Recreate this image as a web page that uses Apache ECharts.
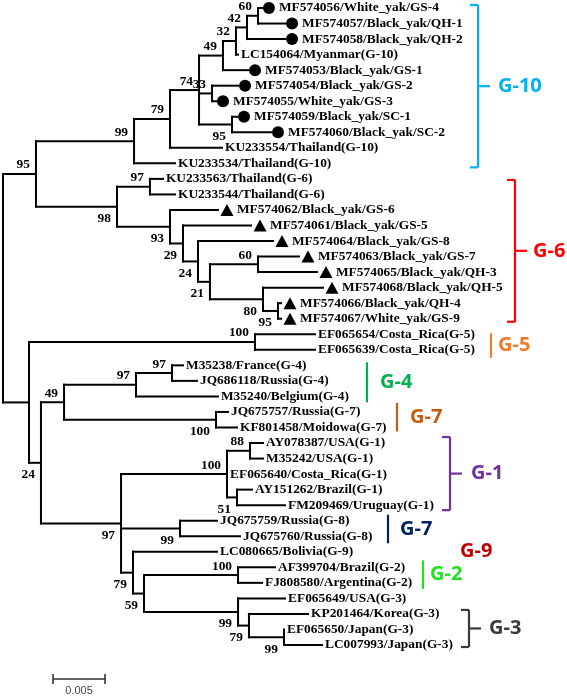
<!DOCTYPE html>
<html><head><meta charset="utf-8">
<script src="https://cdn.jsdelivr.net/npm/echarts@6/dist/echarts.min.js"></script>
<style>html,body{margin:0;padding:0;background:#fff}#c{width:567px;height:696px}</style>
</head><body><div id="c"></div>
<script>
// ---- leaves (top to bottom) ----
const leafNames = [
'MF574056/White_yak/GS-4','MF574057/Black_yak/QH-1','MF574058/Black_yak/QH-2','LC154064/Myanmar(G-10)',
'MF574053/Black_yak/GS-1','MF574054/Black_yak/GS-2','MF574055/White_yak/GS-3','MF574059/Black_yak/SC-1',
'MF574060/Black_yak/SC-2','KU233554/Thailand(G-10)','KU233534/Thailand(G-10)',
'KU233563/Thailand(G-6)','KU233544/Thailand(G-6)','MF574062/Black_yak/GS-6','MF574061/Black_yak/GS-5',
'MF574064/Black_yak/GS-8','MF574063/Black_yak/GS-7','MF574065/Black_yak/QH-3','MF574068/Black_yak/QH-5',
'MF574066/Black_yak/QH-4','MF574067/White_yak/GS-9',
'EF065654/Costa_Rica(G-5)','EF065639/Costa_Rica(G-5)','M35238/France(G-4)','JQ686118/Russia(G-4)',
'M35240/Belgium(G-4)','JQ675757/Russia(G-7)','KF801458/Moidowa(G-7)','AY078387/USA(G-1)','M35242/USA(G-1)',
'EF065640/Costa_Rica(G-1)','AY151262/Brazil(G-1)','FM209469/Uruguay(G-1)','JQ675759/Russia(G-8)',
'JQ675760/Russia(G-8)','LC080665/Bolivia(G-9)','AF399704/Brazil(G-2)','FJ808580/Argentina(G-2)',
'EF065649/USA(G-3)','KP201464/Korea(G-3)','EF065650/Japan(G-3)','LC007993/Japan(G-3)'];
// yak samples of this study: 'G10' = circle, 'G6' = triangle
const leafYak = ['G10','G10','G10','','G10','G10','G10','G10','G10','','',
'','','G6','G6','G6','G6','G6','G6','G6','G6',
'','','','','','','','','','','','','','','','','','','','',''];
const leafParent = ['H','H','G','F','E','I','I','J','J','C','B','L','L','M','N','O','Q','Q','R','S','S',
'U','U','Y','Y','X','Z','Z','AC','AC','AB','AD','AD','AE','AE','AF','AH','AH','AI','AJ','AK','AK'];
// distance from root (substitutions/site)
const leafDepth = [0.0249,0.02712,0.02712,0.0226,0.02356,0.0226,0.02048,0.0225,0.02577,0.02106,0.01654,
0.01538,0.01654,0.02067,0.02385,0.02596,0.02846,0.03019,0.03077,0.02673,0.02673,
0.03,0.03,0.01731,0.01865,0.02067,0.02163,0.0225,0.025,0.025,0.02154,0.02394,0.02712,
0.02058,0.02279,0.02058,0.02615,0.0249,0.02712,0.02933,0.02702,0.03067];

// ---- internal nodes ----
const nodeIds = ['root','A','B','C','D','E','F','G','H','I','J','K','L','M','N','O','P','Q','R','S',
'T','U','V','W','X','Y','Z','AA','AB','AC','AD','AE','AF','AG','AH','AI','AJ','AK'];
const nodeParent = [null,'root','A','B','C','D','E','F','G','D','D','A','K','K','M','N','O','P','P','R',
'root','T','T','V','W','X','W','V','AA','AB','AB','AA','AA','AF','AG','AG','AI','AJ'];
const nodeDepth = [0,0.00317,0.0126,0.01606,0.01885,0.02115,0.0224,0.02346,0.02452,0.0201,0.02202,
0.01096,0.01413,0.01606,0.01731,0.01875,0.0199,0.02452,0.025,0.02644,
0.0025,0.02423,0.00365,0.00587,0.01279,0.01625,0.02048,0.01135,0.02154,0.02375,0.0225,
0.01702,0.0125,0.01356,0.0226,0.0226,0.02365,0.02702];
const nodeSupport = ['',95,99,79,74,49,32,42,60,33,95,98,97,93,29,24,21,60,80,95,
'',100,24,49,97,97,100,97,100,88,51,99,79,59,100,99,79,99];

// ---- genotype groups ----
const groupNames = ['G-10','G-6','G-5','G-4','G-7','G-1','G-7','G-9','G-2','G-3'];
const groupFirst = [0,11,21,23,26,28,33,35,36,39];
const groupLast  = [10,20,22,25,27,32,34,35,37,41];

// ---- scale bar ----
const scaleBarLength = 0.005;
const scaleBarLabel = '0.005';

// ---- styles / positions ----
const supportBelow = ['J','K','M','N','O','P','R','S','V','Z','AA','AD','AE','AF','AG','AI','AJ','AK'];
const groupStyle = [
 {c:'#00B0F0', x:478, kind:'bracket', pt:-3, pb:4, lx:498},
 {c:'#FF0000', x:515, kind:'bracket', pt:1, pb:3, lx:533},
 {c:'#F07C2A', x:491, kind:'bar', pt:-1, pb:8, lx:498},
 {c:'#00B050', x:367, kind:'bar', pt:-3, pb:6, lx:380},
 {c:'#C55A11', x:397, kind:'bar', pt:-9, pb:4, lx:410},
 {c:'#7030A0', x:450, kind:'bracket', pt:-6, pb:5, lx:471},
 {c:'#002060', x:388, kind:'bar', pt:-6, pb:7, lx:400},
 {c:'#C00000', x:0, kind:'none', pt:0, pb:0, lx:460},
 {c:'#22E022', x:423, kind:'bar', pt:-7, pb:6, lx:430},
 {c:'#3A3A3A', x:469, kind:'bracket', pt:-4, pb:2, lx:489}
];
const serif = 'bold 13.4px "Liberation Serif", "DejaVu Serif", serif';

// ---- build tree geometry ----
const depthOf = {}; nodeIds.forEach((id,i)=>depthOf[id]=nodeDepth[i]);
const kids = {}; nodeIds.forEach(id=>kids[id]=[]);
nodeIds.forEach((id,i)=>{ if(nodeParent[i]) kids[nodeParent[i]].push({t:'n',id}); });
leafParent.forEach((p,i)=>kids[p].push({t:'l',i}));
const yOf = {};
function nodeY(id){
  if (yOf[id]!==undefined) return yOf[id];
  const ys = kids[id].map(k=>k.t==='l'?k.i:nodeY(k.id));
  const lo = Math.min(...ys), hi = Math.max(...ys);
  yOf[id] = (lo+hi)/2; yOf[id+'_lo']=lo; yOf[id+'_hi']=hi;
  return yOf[id];
}
nodeY('root');
const segs = [];
nodeIds.forEach((id,i)=>{
  segs.push([nodeDepth[i], yOf[id+'_lo'], nodeDepth[i], yOf[id+'_hi']]);
  if (nodeParent[i]) segs.push([depthOf[nodeParent[i]], yOf[id], nodeDepth[i], yOf[id]]);
});
leafParent.forEach((p,i)=>{
  if (leafDepth[i]-depthOf[p] > 1e-6) segs.push([depthOf[p], i, leafDepth[i], i]);
});

const chart = echarts.init(document.getElementById('c'));
chart.setOption({
  animation:false,
  grid:{left:3, top:8, width:520, height:637},
  xAxis:{type:'value', min:0, max:0.05, show:false},
  yAxis:{type:'value', min:0, max:41, inverse:true, show:false},
  series:[
    {type:'custom', silent:true, data:segs,
     renderItem:(p,api)=>{
       const a=api.coord([api.value(0),api.value(1)]), b=api.coord([api.value(2),api.value(3)]);
       return {type:'line', shape:{x1:a[0],y1:a[1],x2:b[0],y2:b[1]},
               style:{stroke:'#000', lineWidth:2, lineCap:'square'}};
     }},
    {type:'scatter', silent:true, symbol:'circle', symbolSize:12, symbolOffset:[7,0],
     itemStyle:{color:'#000', opacity:1},
     data:leafDepth.map((d,i)=>[d,i]).filter((v,i)=>leafYak[i]==='G10')},
    {type:'scatter', silent:true, symbol:'triangle', symbolSize:[13,12], symbolOffset:[9,0],
     itemStyle:{color:'#000', opacity:1},
     data:leafDepth.map((d,i)=>[d,i]).filter((v,i)=>leafYak[i]==='G6')},
    {type:'custom', silent:true, data:leafDepth.map((d,i)=>[d,i]),
     renderItem:(p,api)=>{
       const i=p.dataIndex, c=api.coord([api.value(0),api.value(1)]);
       const off = leafYak[i]==='G10'?17:(leafYak[i]==='G6'?19:3);
       return {type:'text', x:c[0]+off, y:c[1],
               style:{text:leafNames[i], fill:'#000', font:serif, align:'left', verticalAlign:'middle'}};
     }},
    {type:'custom', silent:true,
     data:nodeIds.map((id,i)=>[nodeDepth[i], yOf[id]]),
     renderItem:(p,api)=>{
       const i=p.dataIndex; if(nodeSupport[i]==='') return null;
       const c=api.coord([api.value(0),api.value(1)]);
       const below = supportBelow.indexOf(nodeIds[i])>=0;
       return {type:'text', x:c[0]-6, y:c[1]+(below?12:-9),
               style:{text:String(nodeSupport[i]), fill:'#000', font:serif, align:'right', verticalAlign:'middle'}};
     }},
    {type:'custom', silent:true,
     data:groupNames.map((g,i)=>[0, groupFirst[i], groupLast[i]]),
     renderItem:(p,api)=>{
       const i=p.dataIndex, s=groupStyle[i];
       const y1=api.coord([0,api.value(1)])[1]+s.pt, y2=api.coord([0,api.value(2)])[1]+s.pb;
       const ym=(y1+y2)/2, ls={stroke:s.c, lineWidth:2.2};
       const ch=[];
       if (s.kind!=='none') ch.push({type:'line', shape:{x1:s.x,y1:y1,x2:s.x,y2:y2}, style:ls});
       if (s.kind==='bracket'){
         ch.push({type:'line', shape:{x1:s.x-8,y1:y1,x2:s.x,y2:y1}, style:ls});
         ch.push({type:'line', shape:{x1:s.x-8,y1:y2,x2:s.x,y2:y2}, style:ls});
         ch.push({type:'line', shape:{x1:s.x,y1:ym,x2:s.x+12,y2:ym}, style:ls});
       }
       ch.push({type:'text', x:s.lx, y:ym, style:{text:groupNames[i], fill:s.c,
                font:'bold 20px "Open Sans", Lato, sans-serif', align:'left', verticalAlign:'middle'}});
       return {type:'group', children:ch};
     }},
    {type:'custom', silent:true,
     data:[[0.00481, 43.19, 0.00481+scaleBarLength]],
     renderItem:(p,api)=>{
       const a=api.coord([api.value(0),api.value(1)]), b=api.coord([api.value(2),api.value(1)]);
       const ls={stroke:'#333', lineWidth:1.6};
       return {type:'group', children:[
         {type:'line', shape:{x1:a[0],y1:a[1],x2:b[0],y2:b[1]}, style:ls},
         {type:'line', shape:{x1:a[0],y1:a[1]-5,x2:a[0],y2:a[1]+5}, style:ls},
         {type:'line', shape:{x1:b[0],y1:b[1]-5,x2:b[0],y2:b[1]+5}, style:ls},
         {type:'text', x:(a[0]+b[0])/2, y:a[1]+12, style:{text:scaleBarLabel, fill:'#444',
           font:'11px "Liberation Sans", Arial, sans-serif', align:'center', verticalAlign:'middle'}}
       ]};
     }}
  ]
});
</script></body></html>
